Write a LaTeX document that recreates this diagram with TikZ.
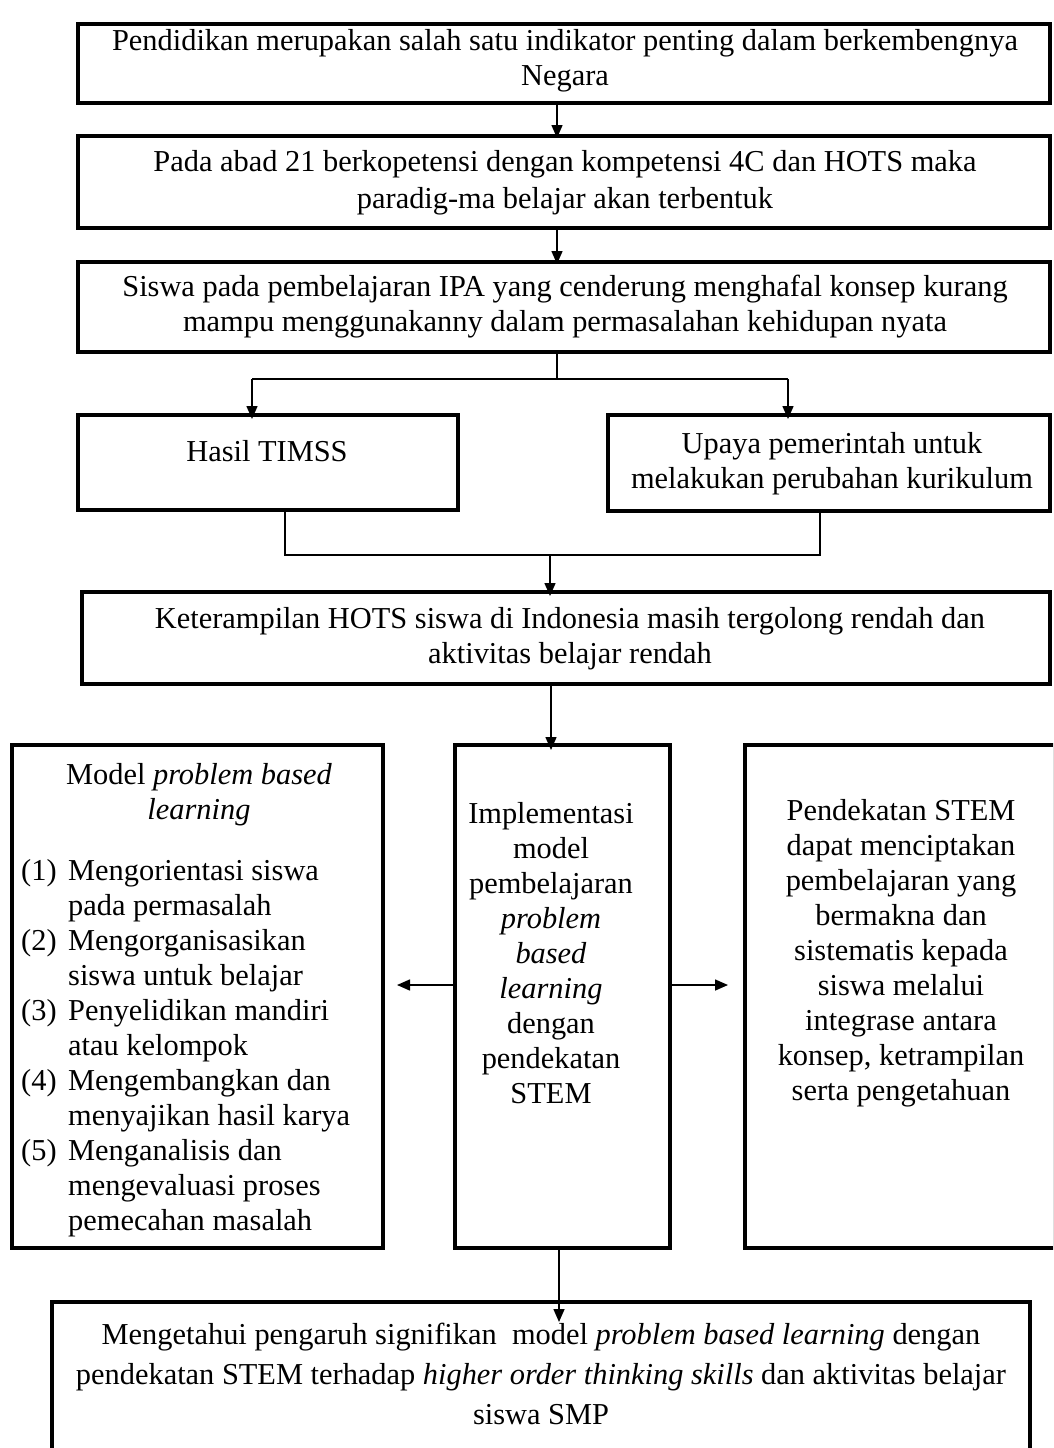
\documentclass[tikz,border=0pt]{standalone}
\usepackage{fontspec}
\setmainfont{Liberation Serif}
\usetikzlibrary{arrows.meta}
\begin{document}
\begin{tikzpicture}[x=1pt,y=-1pt,
  boxnode/.style={draw, line width=4pt, rectangle, anchor=north west, inner sep=0pt, outer sep=0pt},
  txt/.style={font=\fontsize{30.4}{35}\selectfont, align=center, inner sep=0pt},
  conn/.style={line width=1.5pt},
  arr/.style={line width=1.5pt, -{Triangle[length=13pt,width=11pt]}}]
\useasboundingbox (0,0) rectangle (1053,1448);
\fill[white] (0,0) rectangle (1053,1448);
\clip (0,0) rectangle (1053,1448);

% boxes
\node[boxnode, minimum width=972, minimum height=79] (b1) at (78,24) {};
\node[boxnode, minimum width=972, minimum height=92] (b2) at (78,136) {};
\node[boxnode, minimum width=972, minimum height=90] (b3) at (78,262) {};
\node[boxnode, minimum width=380, minimum height=95] (hasil) at (78,415) {};
\node[boxnode, minimum width=442, minimum height=96] (upaya) at (608,415) {};
\node[boxnode, minimum width=968, minimum height=92] (ket) at (82,592) {};
\node[boxnode, minimum width=371, minimum height=503] (left) at (12,745) {};
\node[boxnode, minimum width=215, minimum height=503] (mid) at (455,745) {};
\node[boxnode, minimum width=310, minimum height=503] (right) at (745,745) {};
\node[boxnode, minimum width=978, minimum height=170] (bot) at (52,1302) {};

% texts
\node[txt] (t1) at (565,61) {Pendidikan merupakan salah satu indikator penting dalam berkembengnya\\Negara};
\node[txt, font=\fontsize{30.4}{37}\selectfont] (t2) at (565,183) {Pada abad 21 berkopetensi dengan kompetensi 4C dan HOTS maka\\paradig-ma belajar akan terbentuk};
\node[txt] (t3) at (565,307) {Siswa pada pembelajaran IPA yang cenderung menghafal konsep kurang\\mampu menggunakanny dalam permasalahan kehidupan nyata};
\node[txt] (th) at (267,451) {Hasil TIMSS};
\node[txt] (tu) at (832,464) {Upaya pemerintah untuk\\melakukan perubahan kurikulum};
\node[txt] (tk) at (570,639) {Keterampilan HOTS siswa di Indonesia masih tergolong rendah dan\\aktivitas belajar rendah};
\node[txt] (tm) at (551,953) {Implementasi\\model\\pembelajaran\\\textit{problem}\\\textit{based}\\\textit{learning}\\dengan\\pendekatan\\STEM};
\node[txt] (tr) at (901,953) {Pendekatan STEM\\dapat menciptakan\\pembelajaran yang\\bermakna dan\\sistematis kepada\\siswa melalui\\integrase antara\\konsep, ketrampilan\\serta pengetahuan};
\node[txt, font=\fontsize{30.4}{40}\selectfont] (tb) at (541,1374) {Mengetahui pengaruh signifikan\ \ model \textit{problem based learning} dengan\\pendekatan STEM terhadap \textit{higher order thinking skills} dan aktivitas belajar\\siswa SMP};
\node[txt] (tlh) at (199,795) {Model \textit{problem based}\\\textit{learning}};
\node[txt, anchor=north west, align=left] (tl) at (21,856) {%
  \begin{tabular}{@{}l@{}l@{}}
  \makebox[47pt][l]{(1)} & Mengorientasi siswa\\
   & pada permasalah\\
  \makebox[47pt][l]{(2)} & Mengorganisasikan\\
   & siswa untuk belajar\\
  \makebox[47pt][l]{(3)} & Penyelidikan mandiri\\
   & atau kelompok\\
  \makebox[47pt][l]{(4)} & Mengembangkan dan\\
   & menyajikan hasil karya\\
  \makebox[47pt][l]{(5)} & Menganalisis dan\\
   & mengevaluasi proses\\
   & pemecahan masalah
  \end{tabular}};

% helper coordinates
\coordinate (s3) at (557,379);
\coordinate (jn) at (550,555);

% connectors
\draw[arr] (b1.south -| 557,0) -- ([yshift=-2pt]b2.north -| 557,0);
\draw[arr] (b2.south -| 557,0) -- ([yshift=-2pt]b3.north -| 557,0);
\draw[conn] (b3.south -| s3) -- (s3);
\draw[conn] (s3 -| 252,0) -- (s3 -| 788,0);
\draw[arr] (s3 -| 252,0) -- ([yshift=-4pt]hasil.north -| 252,0);
\draw[arr] (s3 -| 788,0) -- ([yshift=-4pt]upaya.north -| 788,0);
\draw[conn] (hasil.south -| 285,0) -- (jn -| 285,0) -- (jn -| 820,0) -- (upaya.south -| 820,0);
\draw[arr] (jn) -- ([yshift=-4pt]ket.north -| jn);
\draw[arr] (ket.south -| 551,0) -- ([yshift=-5pt]mid.north -| 551,0);
\draw[arr] (mid.west |- 0,985) -- ([xshift=14pt]left.east |- 0,985);
\draw[arr] (mid.east |- 0,985) -- ([xshift=-17pt]right.west |- 0,985);
\draw[arr] (mid.south -| 559,0) -- ([yshift=-20pt]bot.north -| 559,0);
\end{tikzpicture}
\end{document}
